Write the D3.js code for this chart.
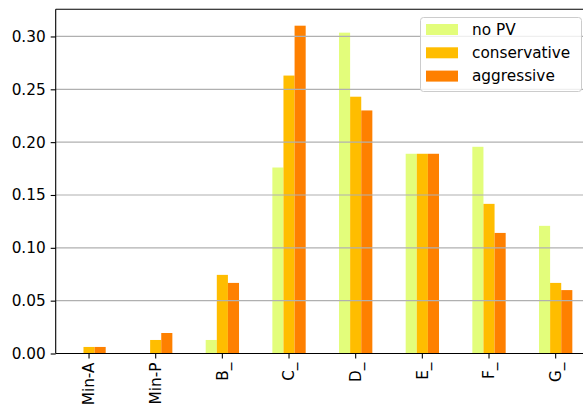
<!DOCTYPE html>
<html>
<head>
<meta charset="utf-8">
<script src="https://cdn.jsdelivr.net/npm/d3@7"></script>
<style>
  html, body { margin: 0; padding: 0; background: #fff; }
  svg { display: block; font-family: "DejaVu Sans", sans-serif; }
</style>
</head>
<body>
<svg id="chart" width="583" height="412"></svg>
<script>
// Share of each class under three PV scenarios
const categories = ["Min-A", "Min-P", "B_", "C_", "D_", "E_", "F_", "G_"];
const seriesNames = ["no PV", "conservative", "aggressive"];
const noPV         = [0.0,    0.0,    0.0128, 0.176, 0.3036, 0.189, 0.1956, 0.1208];
const conservative = [0.0062, 0.0128, 0.0744, 0.263, 0.243,  0.189, 0.1416, 0.0668];
const aggressive   = [0.0062, 0.0194, 0.0668, 0.3102, 0.230, 0.189, 0.1141, 0.0600];
const yTicks = [0.00, 0.05, 0.10, 0.15, 0.20, 0.25, 0.30];
const colors = ["#e3fd7b", "#ffbd00", "#fe8000"];

const seriesValues = [noPV, conservative, aggressive];
const rows = categories.map((c, i) => ({
  cat: c,
  vals: seriesNames.map((s, j) => ({ name: s, value: seriesValues[j][i], color: colors[j] }))
}));

const svg = d3.select("#chart");
const fs = 15.3;
const plotLeft = 55.7, plotRight = 589, plotTop = 9.3, plotBottom = 353.5;

const yMax = d3.max(seriesValues.flat()) * 1.05;
const y = d3.scaleLinear().domain([0, yMax]).range([plotBottom, plotTop]);
const x = d3.scaleBand().domain(categories).range([plotLeft, plotRight]).padding(0);
const bw = x.bandwidth();
const xs = d3.scaleBand().domain(seriesNames).range([bw * 0.25, bw * 0.75]).padding(0);

svg.append("defs").append("clipPath").attr("id", "plotclip")
  .append("rect").attr("x", plotLeft).attr("y", plotTop)
  .attr("width", plotRight - plotLeft).attr("height", plotBottom - plotTop);

const plot = svg.append("g").attr("clip-path", "url(#plotclip)");

// Bars
plot.selectAll("g.grp").data(rows).join("g")
  .attr("class", "grp")
  .attr("transform", d => `translate(${x(d.cat)},0)`)
  .selectAll("rect").data(d => d.vals).join("rect")
  .attr("x", d => xs(d.name))
  .attr("width", xs.bandwidth())
  .attr("y", d => y(d.value))
  .attr("height", d => y(0) - y(d.value))
  .attr("fill", d => d.color);

// Horizontal grid lines, drawn above the bars
plot.append("g").selectAll("line").data(yTicks).join("line")
  .attr("x1", plotLeft).attr("x2", plotRight)
  .attr("y1", d => y(d)).attr("y2", d => y(d))
  .attr("stroke", "#b0b0b0").attr("stroke-width", 1.2);

// Axes
const yAxis = d3.axisLeft(y).tickValues(yTicks).tickFormat(d3.format(".2f")).tickSize(5).tickPadding(5);
const gy = svg.append("g").attr("transform", `translate(${plotLeft},0)`).call(yAxis);
gy.select(".domain").remove();
gy.selectAll("text").attr("font-size", fs).attr("font-family", "DejaVu Sans").attr("fill", "#000");
gy.selectAll("line").attr("stroke", "#000").attr("stroke-width", 1.1);

const xAxis = d3.axisBottom(x).tickSize(5).tickPadding(5);
const gx = svg.append("g").attr("transform", `translate(0,${plotBottom})`).call(xAxis);
gx.select(".domain").remove();
gx.selectAll("line").attr("stroke", "#000").attr("stroke-width", 1.1);
gx.selectAll("text")
  .attr("font-size", fs).attr("font-family", "DejaVu Sans").attr("fill", "#000")
  .attr("text-anchor", "end")
  .attr("dy", "0.35em")
  .attr("transform", "rotate(-90)")
  .attr("x", -9).attr("y", 0);

// Spines: left, bottom, top, right
const spine = svg.append("g").attr("stroke", "#000").attr("stroke-width", 1.1).attr("fill", "none");
spine.append("line").attr("x1", plotLeft).attr("x2", plotLeft).attr("y1", plotTop).attr("y2", plotBottom);
spine.append("line").attr("x1", plotLeft).attr("x2", plotRight).attr("y1", plotBottom).attr("y2", plotBottom);
spine.append("line").attr("x1", plotLeft).attr("x2", plotRight).attr("y1", plotTop).attr("y2", plotTop);
spine.append("line").attr("x1", plotRight).attr("x2", plotRight).attr("y1", plotTop).attr("y2", plotBottom);

// Legend
const lg = svg.append("g");
lg.append("rect")
  .attr("x", 420.5).attr("y", 17.5).attr("width", 161).attr("height", 74)
  .attr("rx", 3).attr("ry", 3)
  .attr("fill", "#fff").attr("fill-opacity", 0.8)
  .attr("stroke", "#cccccc").attr("stroke-width", 1);
const items = lg.selectAll("g.item").data(seriesNames).join("g")
  .attr("class", "item")
  .attr("transform", (d, i) => `translate(426,${24 + i * 23.3})`);
items.append("rect").attr("width", 32).attr("height", 11).attr("fill", (d, i) => colors[i]);
items.append("text").attr("x", 46).attr("y", 5.5).attr("dy", "0.35em")
  .attr("font-size", fs).attr("fill", "#000").text(d => d);
</script>
</body>
</html>
